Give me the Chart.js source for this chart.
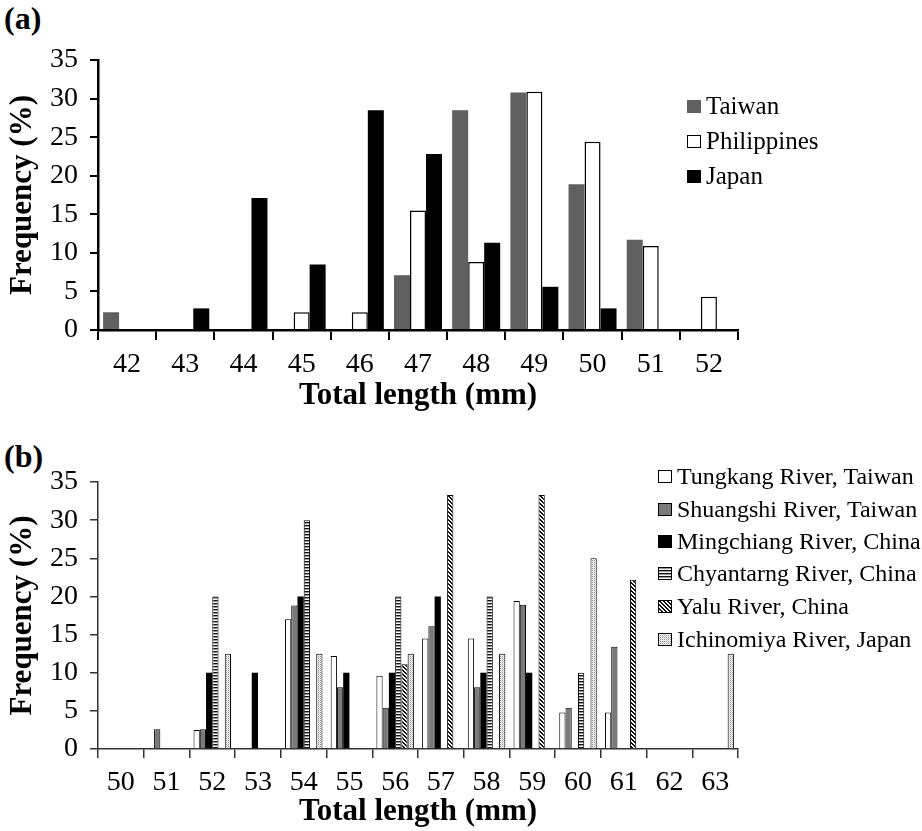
<!DOCTYPE html>
<html>
<head>
<meta charset="utf-8">
<script src="https://cdn.jsdelivr.net/npm/chart.js@4.4.1/dist/chart.umd.min.js"></script>
<style>
  html,body{margin:0;padding:0;background:#fff;}
  #wrap{position:relative;width:922px;height:831px;overflow:hidden;background:#fff;font-family:"Liberation Serif","DejaVu Serif","Times New Roman",serif;color:#000;}
  canvas.chart{position:absolute;left:0;}
  .plabel{position:absolute;left:4px;font-weight:bold;font-size:32px;line-height:32px;}
  .leg{position:absolute;display:flex;align-items:center;height:30px;white-space:nowrap;}
  .leg canvas{margin-right:5px;}
</style>
</head>
<body>
<div id="wrap">
  <div class="plabel" style="top:2px;">(a)</div>
  <canvas id="ca" class="chart" width="922" height="420" style="top:0;"></canvas>
  <div class="plabel" style="top:440px;">(b)</div>
  <canvas id="cb" class="chart" width="922" height="411" style="top:420px;"></canvas>
  <div id="legA"></div>
  <div id="legB"></div>
</div>
<script>
// ---------- Data: panel (a) ----------
const lengthsA = ['42','43','44','45','46','47','48','49','50','51','52'];
const taiwan      = [2.3, null, null, null, null, 7.1, 28.5, 30.8, 18.9, 11.7, null];
const philippines = [null, null, null, 2.3, 2.3, 15.5, 8.8, 30.9, 24.4, 10.9, 4.3];
const japan       = [null, 2.8, 17.1, 8.5, 28.5, 22.8, 11.3, 5.6, 2.8, null, null];
const seriesNamesA = ['Taiwan', 'Philippines', 'Japan'];

// ---------- Data: panel (b) ----------
const lengthsB = ['50','51','52','53','54','55','56','57','58','59','60','61','62','63'];
const tungkang   = [null, null, 2.5, null, 17.0, 12.2, 9.6, 14.5, 14.5, 19.4, 4.8, 4.8, null, null];
const shuangshi  = [null, 2.6, 2.6, null, 18.8, 8.1, 5.4, 16.1, 8.1, 18.9, 5.4, 13.4, null, null];
const mingchiang = [null, null, 10, 10, 20, 10, 10, 20, 10, 10, null, null, null, null];
const chyantarng = [null, null, 20, null, 30, null, 20, null, 20, null, 10, null, null, null];
const yalu       = [null, null, null, null, null, null, 11.1, 33.3, null, 33.3, null, 22.2, null, null];
const ichinomiya = [null, null, 12.5, null, 12.5, null, 12.5, null, 12.5, null, 25, null, null, 12.5];
const seriesNamesB = ['Tungkang River, Taiwan','Shuangshi River, Taiwan','Mingchiang River, China','Chyantarng River, China','Yalu River, China','Ichinomiya River, Japan'];

const yTicks = [0,5,10,15,20,25,30,35];

const FAM = '"Liberation Serif", "DejaVu Serif", "Times New Roman", serif';

// ---------- Patterns ----------
function makePattern(kind){
  const c = document.createElement('canvas');
  let x;
  if(kind==='hstripe'){
    c.width=1;c.height=3;x=c.getContext('2d');
    x.fillStyle='#fff';x.fillRect(0,0,1,3);
    x.fillStyle='#111';x.fillRect(0,0,1,1);
    x.fillStyle='#999';x.fillRect(0,1,1,1);
  } else if(kind==='diag'){
    c.width=4;c.height=4;x=c.getContext('2d');
    x.fillStyle='#fff';x.fillRect(0,0,4,4);
    x.fillStyle='#111';
    for(let i=0;i<4;i++){x.fillRect(i,i,1,1);x.fillRect((i+1)%4,i,1,1);}
  } else {
    c.width=2;c.height=2;x=c.getContext('2d');
    x.fillStyle='#fff';x.fillRect(0,0,2,2);
    x.fillStyle='#8a8a8a';x.fillRect(0,0,1,1);
    x.fillStyle='#d0d0d0';x.fillRect(1,1,1,1);
  }
  return document.createElement('canvas').getContext('2d').createPattern(c,'repeat');
}
const hPat = makePattern('hstripe');
const dPat = makePattern('diag');
const oPat = makePattern('dots');

const styleA = [
  {bg:'#606060', border:'#606060', bw:0},
  {bg:'#ffffff', border:'#000000', bw:1.5},
  {bg:'#000000', border:'#000000', bw:0}
];
const styleB = [
  {bg:'#ffffff', border:'#000000', bw:1},
  {bg:'#7a7a7a', border:'#000000', bw:1},
  {bg:'#000000', border:'#000000', bw:0},
  {bg:hPat, border:'#000000', bw:1},
  {bg:dPat, border:'#000000', bw:1},
  {bg:oPat, border:'#000000', bw:1}
];

function buildOptions(cfg){
  return {
    responsive:false, maintainAspectRatio:false, animation:false, devicePixelRatio:1,
    layout:{padding:{top:cfg.padTop, right:184, left:0, bottom:0}},
    plugins:{legend:{display:false}, tooltip:{enabled:false}},
    scales:{
      x:{
        offset:true,
        grid:{offset:true, drawOnChartArea:false, drawTicks:true, tickLength:cfg.tickLen, color:cfg.lineColor, lineWidth:cfg.tickW},
        border:{display:true, color:cfg.lineColor, width:cfg.axisW},
        ticks:{font:{family:FAM, size:28}, color:'#000', padding:8, maxRotation:0, autoSkip:false},
        title:{display:true, text:'Total length (mm)', color:'#000', font:{family:FAM, size:31, weight:'bold'}, padding:{top:0, bottom:cfg.titlePadB}},
        afterFit(s){ s.height = cfg.xHeight; }
      },
      y:{
        min:0, max:35,
        afterBuildTicks(s){ s.ticks = yTicks.map(v=>({value:v})); },
        grid:{drawOnChartArea:false, drawTicks:true, tickLength:8, color:cfg.lineColor, lineWidth:cfg.tickW},
        border:{display:true, color:cfg.lineColor, width:cfg.axisW},
        ticks:{font:{family:FAM, size:28}, color:'#000', padding:12},
        title:{display:true, text:'Frequency (%)', color:'#000', font:{family:FAM, size:31, weight:'bold'}, padding:{top:4, bottom:0}},
        afterFit(s){ s.width = 98; }
      }
    }
  };
}

function datasetsFrom(names, arrays, styles, pct){
  return names.map((n,i)=>({
    label:n, data:arrays[i],
    backgroundColor:styles[i].bg, borderColor:styles[i].border, borderWidth:styles[i].bw,
    borderSkipped:'bottom', categoryPercentage:pct, barPercentage:1
  }));
}

new Chart(document.getElementById('ca'), {
  type:'bar',
  data:{labels:lengthsA, datasets:datasetsFrom(seriesNamesA, [taiwan, philippines, japan], styleA, 0.825)},
  options:buildOptions({padTop:60, tickLen:10, lineColor:'#000', tickW:2, axisW:2.5, xHeight:90, titlePadB:5})
});

new Chart(document.getElementById('cb'), {
  type:'bar',
  data:{labels:lengthsB, datasets:datasetsFrom(seriesNamesB, [tungkang, shuangshi, mingchiang, chyantarng, yalu, ichinomiya], styleB, 0.82)},
  options:buildOptions({padTop:62, tickLen:9, lineColor:'#333', tickW:1.5, axisW:1.5, xHeight:82, titlePadB:0})
});

function swatch(style, w, h){
  const c = document.createElement('canvas');
  c.width = w; c.height = h;
  const x = c.getContext('2d');
  x.fillStyle = style.bg; x.fillRect(0,0,w,h);
  if(style.bw>0){ x.strokeStyle = '#000'; x.lineWidth = 1; x.strokeRect(0.5,0.5,w-1,h-1); }
  return c;
}
function buildLegend(containerId, names, styles, left, centers, fontSize, sw){
  const cont = document.getElementById(containerId);
  names.forEach((n,i)=>{
    const row = document.createElement('div');
    row.className = 'leg';
    row.style.left = left + 'px';
    row.style.top = (centers[i]-15) + 'px';
    row.style.fontSize = fontSize + 'px';
    row.appendChild(swatch(styles[i], sw[0], sw[1]));
    const t = document.createElement('span');
    t.textContent = n;
    row.appendChild(t);
    cont.appendChild(row);
  });
}
buildLegend('legA', seriesNamesA, styleA, 687, [106,141,176], 25, [14,13]);
buildLegend('legB', seriesNamesB, styleB, 658, [476,509,541,573.5,606,639], 24, [14,13]);
</script>
</body>
</html>
